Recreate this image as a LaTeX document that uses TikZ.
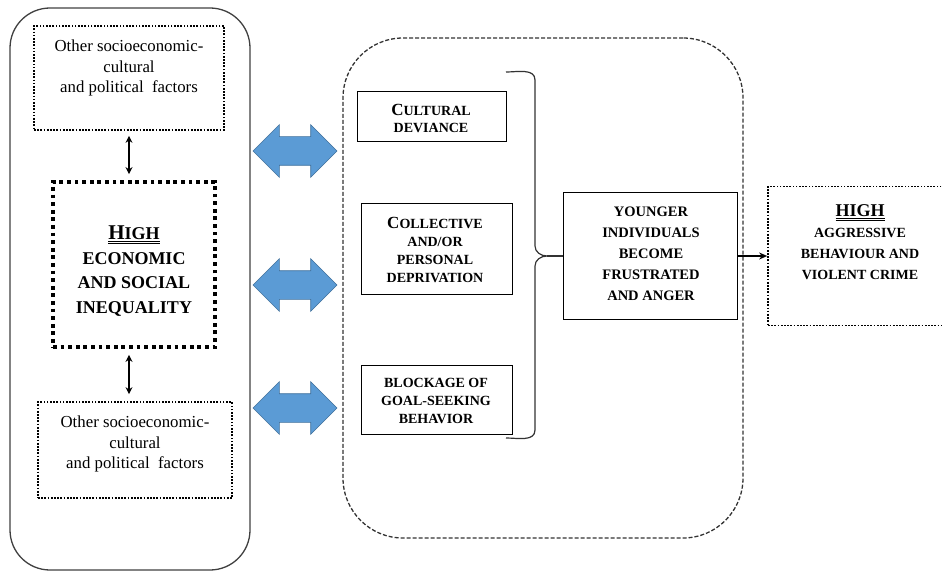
\documentclass[tikz,border=0pt]{standalone}
\usepackage{fontspec}
\setmainfont{Liberation Serif}
\usetikzlibrary{shapes.arrows,arrows.meta}
\definecolor{arrowblue}{RGB}{91,155,213}
\definecolor{arrowedge}{RGB}{65,113,156}
\newcommand\bigfirst[2]{{\fontsize{17}{17}\selectfont #1}#2}

\tikzset{
  dotbox/.style={draw,line width=1.7pt,dash pattern=on 1.7pt off 1.5pt},
  thickdot/.style={draw,line width=3.8pt,dash pattern=on 3.8pt off 3.8pt},
  plainbox/.style={draw,line width=1pt},
  normtext/.style={font=\fontsize{16.8}{20.5}\selectfont,align=center},
  capstext/.style={font=\bfseries\fontsize{14}{18}\selectfont,align=center},
  blockarrow/.style={double arrow,fill=arrowblue,draw=arrowedge,line width=.6pt,
    minimum height=84pt,inner ysep=14pt,inner xsep=0pt,
    double arrow head extend=12pt,double arrow tip angle=90},
  linkarrow/.style={{Stealth[length=7pt,width=7pt]}-{Stealth[length=7pt,width=7pt]},line width=1.4pt}
}

\begin{document}
\begin{tikzpicture}[x=1pt,y=-1pt]
  \useasboundingbox (0,0) rectangle (942,572);

  \node[draw=black!75,line width=1.3pt,rounded corners=40pt,minimum width=240pt,minimum height=562pt] (leftpanel) at (130,289) {};
  \node[draw=black!80,line width=1.3pt,dash pattern=on 4pt off 2pt,rounded corners=60pt,minimum width=400pt,minimum height=500pt] (midpanel) at (543,288) {};

  \node[dotbox,minimum width=190pt,minimum height=104pt] (otherA) at (129,78) {};
  \node[normtext] (otherAtxt) at (129,68) {Other socioeconomic-\\cultural\\and political~ factors};
  \node[thickdot,minimum width=162pt,minimum height=165pt] (highineq) at (134,264.5) {};
  \node[font=\bfseries\fontsize{18}{24.5}\selectfont,align=center] (ineqtxt) at (134,271)
    {\underline{\underline{{\fontsize{21}{21}\selectfont H}IGH}}\\ECONOMIC\\AND SOCIAL\\INEQUALITY};
  \node[dotbox,minimum width=194pt,minimum height=96pt] (otherB) at (135,450) {};
  \node[normtext] (otherBtxt) at (135,444) {Other socioeconomic-\\cultural\\and political~ factors};

  \draw[linkarrow] ([yshift=-5pt]otherA.south) -- ([yshift=6pt]otherA.south |- highineq.north);
  \draw[linkarrow] ([yshift=-6pt]otherA.south |- highineq.south) -- ([yshift=7pt]otherA.south |- otherB.north);

  \foreach \n/\y in {arrowA/151,arrowB/285,arrowC/408}
    \node[blockarrow] (\n) at (295,\y) {};

  \node[plainbox,minimum width=149pt,minimum height=50pt] (cultural) at (431.5,117) {};
  \node[capstext,font=\bfseries\fontsize{14}{17}\selectfont] (culturaltxt) at (431,118.5) {\bigfirst{C}{ULTURAL}\\DEVIANCE};
  \node[plainbox,minimum width=151pt,minimum height=90pt] (collective) at (436.5,249) {};
  \node[capstext] (collectivetxt) at (435,249.5) {\bigfirst{C}{OLLECTIVE}\\AND/OR\\PERSONAL\\DEPRIVATION};
  \node[plainbox,minimum width=151pt,minimum height=69pt] (blockage) at (436.5,399.5) {};
  \node[capstext] (blockagetxt) at (436,400.5) {BLOCKAGE OF\\GOAL-SEEKING\\BEHAVIOR};

  \node[plainbox,minimum width=174pt,minimum height=127pt] (younger) at (650,256) {};
  \node[capstext,font=\bfseries\fontsize{14.5}{21}\selectfont] (youngertxt) at (651,254)
    {YOUNGER\\INDIVIDUALS\\BECOME\\FRUSTRATED\\AND ANGER};

  \node[dotbox,minimum width=182pt,minimum height=139pt] (highcrime) at (859,256) {};
  \node[capstext,font=\bfseries\fontsize{14}{21}\selectfont] (crimetxt) at (860,242)
    {\underline{\underline{\fontsize{18}{18}\selectfont HIGH}}\\AGGRESSIVE\\BEHAVIOUR AND\\VIOLENT CRIME};

  \coordinate (bracetip) at (547,256);
  \draw[line width=1.2pt,black!80] (506,72) to[out=0,in=90] (535,80) -- (535,246)
    to[out=-90,in=180] (bracetip) to[out=180,in=90] (535,266) -- (535,430) to[out=-90,in=0] (506,438);
  \draw[line width=1.2pt,black!80] (bracetip) -- (younger);
  \draw[-{Stealth[length=8pt,width=7pt]},line width=1.8pt] (younger) -- (highcrime);
\end{tikzpicture}
\end{document}
